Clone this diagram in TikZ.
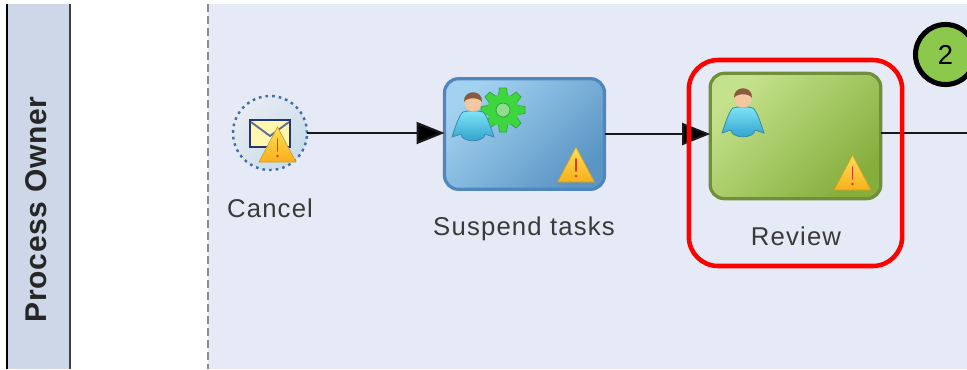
\documentclass[tikz,border=0pt]{standalone}
\usepackage{fontspec}
\usetikzlibrary{arrows.meta}
\newfontfamily\lblfont[LetterSpace=4.5]{Liberation Sans}
\newfontfamily\lanefont[LetterSpace=2]{Liberation Sans}
\setmainfont{Liberation Sans}
\definecolor{lanefill}{HTML}{CDD7E8}
\definecolor{poolbg}{HTML}{E6EAF6}
\definecolor{lbl}{HTML}{3A3A3A}
\definecolor{bluetl}{HTML}{A3D1F0}
\definecolor{bluebr}{HTML}{5A95C4}
\definecolor{blueedge}{HTML}{4F86BE}
\definecolor{greentl}{HTML}{C4E28C}
\definecolor{greenbr}{HTML}{86AE3C}
\definecolor{greenedge}{HTML}{6F8F3B}
\definecolor{warntop}{HTML}{FFDD55}
\definecolor{warnbot}{HTML}{F8B01A}
\definecolor{warnedge}{HTML}{C9A02E}
\definecolor{warnred}{HTML}{E0362C}
\definecolor{bodytop}{HTML}{7FE3F7}
\definecolor{bodybot}{HTML}{2C9FCB}
\definecolor{bodyedge}{HTML}{3A8CA8}
\definecolor{skin}{HTML}{F3C8A0}
\definecolor{hair}{HTML}{8A5A3C}
\definecolor{gearfill}{HTML}{3ED63E}
\definecolor{gearedge}{HTML}{2FA52F}
\definecolor{gearhole}{HTML}{8FDC8F}
\definecolor{badgefill}{HTML}{8CC84B}
\definecolor{dots}{HTML}{3F6FA3}
\definecolor{circtl}{HTML}{E8EBF2}
\definecolor{circbr}{HTML}{C8DCEB}
\definecolor{envfill}{HTML}{FFF6B0}
\definecolor{envedge}{HTML}{24366F}
\definecolor{envflap}{HTML}{5C6C98}
\tikzset{
  x=0.75pt,y=-0.75pt,
  every node/.style={inner sep=0pt,outer sep=0pt},
  tasklabel/.style={font=\lblfont\fontsize{19.3}{21}\selectfont,text=lbl,anchor=center},
  taskbox/.style={rectangle,rounded corners=10.5pt,line width=2.4pt},
  flow/.style={line width=1.6pt,draw=black!90},
  arrowflow/.style={flow,-{Triangle[length=21pt,width=16.5pt,fill=black]}},
  pics/warnsign/.style={code={
    \shade[top color=warntop,bottom color=warnbot,draw=warnedge,line width=0.5pt]
      (0,0) -- (18.5,35) -- (-18.5,35) -- cycle;
    \draw[warnred,line width=1.3pt,line cap=round] (0,12) -- (0,24);
    \fill[warnred] (0,29) circle (1.3);
  }},
  pics/personicon/.style={code={
    \shade[top color=bodytop,bottom color=bodybot,draw=bodyedge,line width=0.6pt]
      (-5,10) -- (-10,11) .. controls (-14,14) and (-18,27) .. (-21,36) -- (-12,33)
      .. controls (-12,42) and (12,42) .. (12,33) -- (21,36)
      .. controls (18,27) and (14,14) .. (10,11) -- (5,10) -- cycle;
    \fill[skin] (0,2) circle (8.5);
    \fill[hair] (-9,1) .. controls (-10,-12) and (10,-12) .. (9,1)
      .. controls (6,-4) and (-6,-4) .. (-9,1) -- cycle;
  }},
  pics/gearicon/.style={code={
    \foreach \a in {0,45,...,315}{
      \fill[gearfill,draw=gearedge,line width=0.5pt,rotate=\a]
        (15,-4.5) -- (22,-3.5) -- (22,3.5) -- (15,4.5) -- cycle;
    }
    \fill[gearfill] (0,0) circle (16);
    \fill[gearhole,draw=gearedge,line width=0.6pt] (0,0) circle (7);
  }}
}
\begin{document}
\begin{tikzpicture}
\useasboundingbox (0,0) rectangle (967,369);
\fill[white] (0,0) rectangle (967,369);
% lane and pool
\fill[lanefill] (8,4) rectangle (70,369);
\fill[poolbg] (208,4) rectangle (967,369);
\draw[black,line width=2.2pt] (7,4) -- (7,369);
\draw[black!75,line width=1.6pt] (70,4) -- (70,369);
\draw[black!45,line width=1.2pt,dash pattern=on 6pt off 3pt] (208,4) -- (208,369);
\node[rotate=90,text=black!85,font=\lanefont\bfseries\fontsize{22.5}{24}\selectfont] (lane) at (36,209.5) {Process Owner};
% nodes
\node[circle,minimum size=55.5pt,top color=circtl,bottom color=circbr,shading angle=45,
  draw=dots,line width=1.8pt,dash pattern=on 2pt off 3pt] (cancel) at (270,133) {};
\node[taskbox,minimum width=120pt,minimum height=83pt,draw=blueedge,
  top color=bluetl,bottom color=bluebr,shading angle=45] (suspend) at (524.5,134) {};
\node[taskbox,minimum width=128pt,minimum height=94pt,draw=greenedge,
  top color=greentl,bottom color=greenbr,shading angle=45] (review) at (795.5,136) {};
\node[tasklabel] (cancellabel) at (270,208) {Cancel};
\node[tasklabel] (suspendlabel) at (524,229) {Suspend tasks};
\node[tasklabel] (reviewlabel) at (796,236) {Review};
\coordinate (rightend) at (967,133);
% connectors
\draw[arrowflow] (cancel.east) -- (cancel.east -| suspend.west);
\draw[arrowflow] (suspend.east) -- (suspend.east -| review.west);
\draw[flow] (review.east |- rightend) -- (rightend);
% icons
\draw[draw=envedge,line width=1.8pt,fill=envfill] (250,120) rectangle (290,147);
\draw[draw=envflap,line width=1.4pt] (251,122) -- (270,136) -- (289,122);
\pic at (277.5,127) {warnsign};
\pic at (503,110) {gearicon};
\pic at (473,101) {personicon};
\pic at (576,147) {warnsign};
\pic at (743,97) {personicon};
\pic at (852.5,155) {warnsign};
% highlight and badge
\node[rectangle,draw=red,line width=3.4pt,rounded corners=22pt,minimum width=160pt,minimum height=154.5pt] (highlight) at (795.5,163) {};
\node[circle,draw=black,line width=3.8pt,fill=badgefill,minimum size=45pt,font=\fontsize{20.5}{22}\selectfont] (badge) at (945.5,54.5) {2};
\end{tikzpicture}
\end{document}
